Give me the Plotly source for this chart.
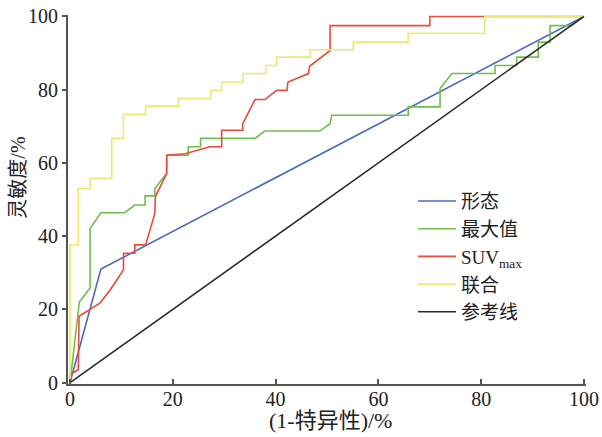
import plotly.graph_objects as go

# ---- data (percent) ----
morph_x = [0, 6.0, 100]
morph_y = [0, 31.0, 100]

max_x = [0, 1.6, 1.8, 3.9, 3.9, 6.0, 10.6, 12.6, 14.6, 14.6, 16.5, 16.5, 18.8, 18.8, 23.0, 23.0,
         25.4, 25.4, 36.0, 37.9, 48.6, 50.6, 50.9, 65.8, 65.8, 72.0, 72.0, 74.3, 82.7, 82.7,
         86.9, 86.9, 91.1, 91.1, 93.4, 93.4, 97.6, 100]
max_y = [0, 20.0, 22.0, 25.8, 42.1, 46.4, 46.4, 48.5, 48.5, 51.0, 51.0, 53.0, 57.1, 62.1, 62.1, 64.4,
         64.4, 66.7, 66.7, 68.7, 68.7, 70.7, 73.0, 73.0, 75.3, 75.3, 80.3, 84.4, 84.4, 86.6,
         86.6, 88.9, 88.9, 93.0, 93.0, 97.5, 97.5, 100]

suv_x = [0, 0, 1.6, 1.75, 5.8, 7.8, 10.4, 10.4, 12.6, 12.6, 14.7, 16.5, 16.6, 18.8, 18.8, 22.4,
         27.2, 29.5, 29.5, 33.6, 33.6, 36.0, 37.9, 40.2, 42.2, 42.4, 46.4, 46.6, 50.6, 50.6,
         70.0, 70.0, 100]
suv_y = [0, 2.2, 3.5, 18.1, 21.7, 25.3, 30.8, 35.3, 35.3, 37.6, 37.6, 46.2, 50.8, 57.1, 62.1, 62.5,
         64.4, 64.4, 68.9, 68.9, 70.7, 77.3, 77.3, 79.8, 79.8, 82.1, 84.4, 86.4, 90.7, 97.5,
         97.5, 100, 100]

comb_x = [0, 0, 1.6, 1.6, 3.9, 3.9, 8.1, 8.1, 10.4, 10.4, 14.7, 14.7, 21.1, 21.1, 27.4, 27.4,
          29.5, 29.5, 33.7, 33.7, 38.1, 38.1, 40.2, 40.2, 46.7, 46.7, 55.1, 55.1, 65.8, 65.8,
          80.7, 80.7, 100]
comb_y = [0, 37.6, 37.6, 53.0, 53.0, 55.8, 55.8, 66.7, 66.7, 73.3, 73.3, 75.5, 75.5, 77.6, 77.6, 79.8,
          79.8, 82.1, 82.1, 84.4, 84.4, 86.6, 86.6, 88.9, 88.9, 90.9, 90.9, 93.0, 93.0, 95.4,
          95.4, 100, 100]

ref_x = [0, 100]
ref_y = [0, 100]

tick_vals = [0, 20, 40, 60, 80, 100]
names = ["形态", "最大值", "SUV<sub>max</sub>", "联合", "参考线"]
colors = ["#4a68c4", "#6cc04c", "#ee4a3c", "#eaea70", "#2a2a2a"]
xs = [morph_x, max_x, suv_x, comb_x, ref_x]
ys = [morph_y, max_y, suv_y, comb_y, ref_y]

SERIF = "Liberation Serif, Noto Sans CJK SC, serif"

fig = go.Figure()
for n, c, x, y in zip(names, colors, xs, ys):
    fig.add_trace(go.Scatter(x=x, y=y, mode="lines", name=n,
                             line=dict(color=c, width=1.6)))

fig.update_layout(
    template="none",
    width=602, height=437,
    margin=dict(l=67.9, r=15.9, t=14.5, b=52.5, autoexpand=False),
    paper_bgcolor="white", plot_bgcolor="white",
    font=dict(family=SERIF, size=17, color="#222"),
    showlegend=True,
    legend=dict(x=0.666, y=0.547, xanchor="left", yanchor="top",
                font=dict(family=SERIF, size=19, color="#222"),
                bgcolor="rgba(0,0,0,0)", borderwidth=0, itemwidth=38),
    xaxis=dict(range=[-0.4, 100.4], tickvals=tick_vals, automargin=False,
               ticks="inside", ticklen=5, tickwidth=1.5, tickcolor="#555",
               ticklabelstandoff=-4,
               showline=True, linecolor="#555", linewidth=2, showgrid=False,
               zeroline=False, tickfont=dict(size=20)),
    yaxis=dict(range=[-0.4, 100.4], tickvals=tick_vals, automargin=False,
               ticks="outside", ticklen=4, tickwidth=1.5, tickcolor="#555",
               showline=True, linecolor="#555", linewidth=2, showgrid=False,
               zeroline=False, tickfont=dict(size=20)),
    annotations=[
        dict(text="灵敏度/%", textangle=-90, xref="paper", yref="paper",
             x=-0.096, y=0.56, xanchor="center", yanchor="middle", showarrow=False,
             font=dict(size=20)),
        dict(text="(1-特异性)/%", xref="paper", yref="paper",
             x=0.506, y=-0.1, xanchor="center", yanchor="middle", showarrow=False,
             font=dict(size=22)),
    ],
)

fig.write_html("out.html", config={"displayModeBar": False},
               post_script="document.body.style.margin='0';")
